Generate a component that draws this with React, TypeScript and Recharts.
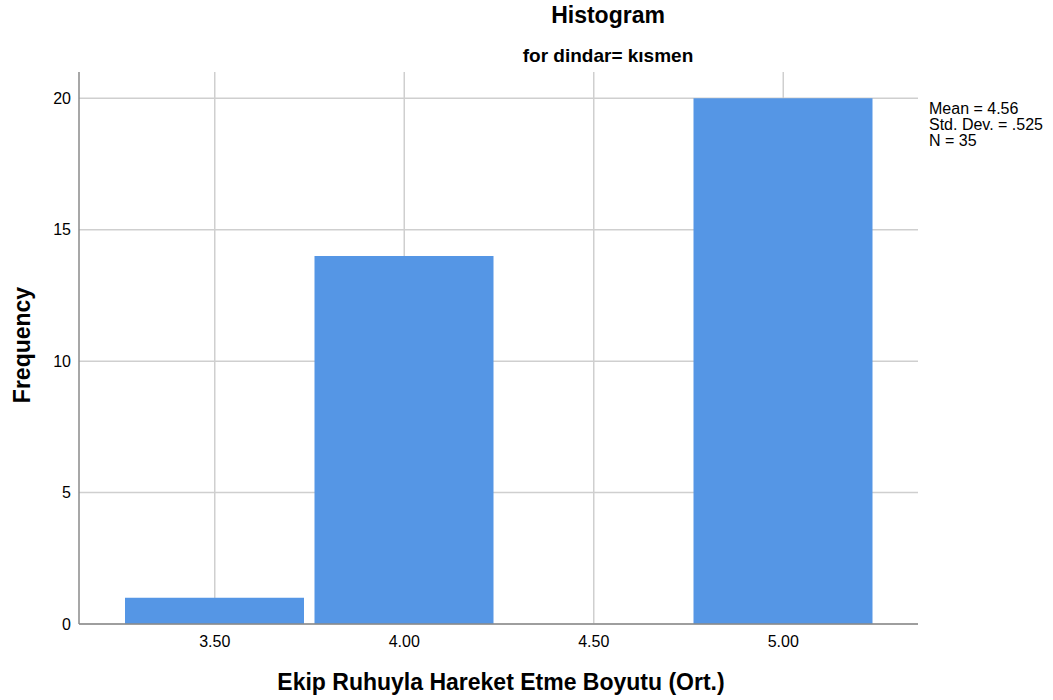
import { Bar, BarChart, CartesianGrid, XAxis, YAxis } from "recharts"

const bins = ["3.50", "4.00", "4.50", "5.00"]
const frequencies = [1, 14, 0, 20]
const yTicks = [0, 5, 10, 15, 20]
const statsLines = ["Mean = 4.56", "Std. Dev. = .525", "N = 35"]

const data = bins.map((bin, i) => ({ bin, count: frequencies[i] }))

const FONT = "Arial, 'Liberation Sans', sans-serif"

export default function App() {
  return (
    <div style={{ position: "absolute", left: 0, top: 0, width: 1053, height: 700, background: "#fff", fontFamily: FONT }}>
      <BarChart
        width={1053}
        height={700}
        data={data}
        margin={{ top: 72, right: 135, bottom: 46, left: 29 }}
      >
        <CartesianGrid stroke="#cfcfcf" strokeWidth={1.5} syncWithTicks />
        <XAxis
          dataKey="bin"
          height={30}
          padding={{ left: 41, right: 40 }}
          tickLine={false}
          tickSize={0}
          tickMargin={12}
          stroke="#8a8a8a"
          strokeWidth={1.5}
          tick={{ fill: "#000", fontSize: 16, fontFamily: FONT }}
        />
        <YAxis
          domain={[0, 21]}
          ticks={yTicks}
          width={50}
          tickLine={false}
          tickSize={0}
          tickMargin={8}
          stroke="#8a8a8a"
          strokeWidth={1.5}
          tick={{ fill: "#000", fontSize: 16, fontFamily: FONT }}
        />
        <Bar dataKey="count" fill="#5596e5" barSize={179} isAnimationActive={false} />
      </BarChart>
      <div style={{ position: "absolute", left: 458, width: 300, top: 3.5, textAlign: "center", fontSize: 23, lineHeight: "23px", fontWeight: "bold" }}>
        Histogram
      </div>
      <div style={{ position: "absolute", left: 408, width: 400, top: 46, textAlign: "center", fontSize: 19, lineHeight: "19px", fontWeight: "bold" }}>
        for dindar= kısmen
      </div>
      <div style={{ position: "absolute", left: 151, width: 700, top: 670.5, textAlign: "center", fontSize: 23, lineHeight: "23px", fontWeight: "bold" }}>
        Ekip Ruhuyla Hareket Etme Boyutu (Ort.)
      </div>
      <div
        style={{
          position: "absolute",
          left: 22,
          top: 345,
          transform: "translate(-50%, -50%) rotate(-90deg)",
          fontSize: 23,
          lineHeight: "23px",
          fontWeight: "bold",
          whiteSpace: "nowrap",
        }}
      >
        Frequency
      </div>
      <div style={{ position: "absolute", left: 929, top: 101, fontSize: 16, lineHeight: "16px" }}>
        {statsLines.map((line) => (
          <div key={line}>{line}</div>
        ))}
      </div>
    </div>
  )
}
